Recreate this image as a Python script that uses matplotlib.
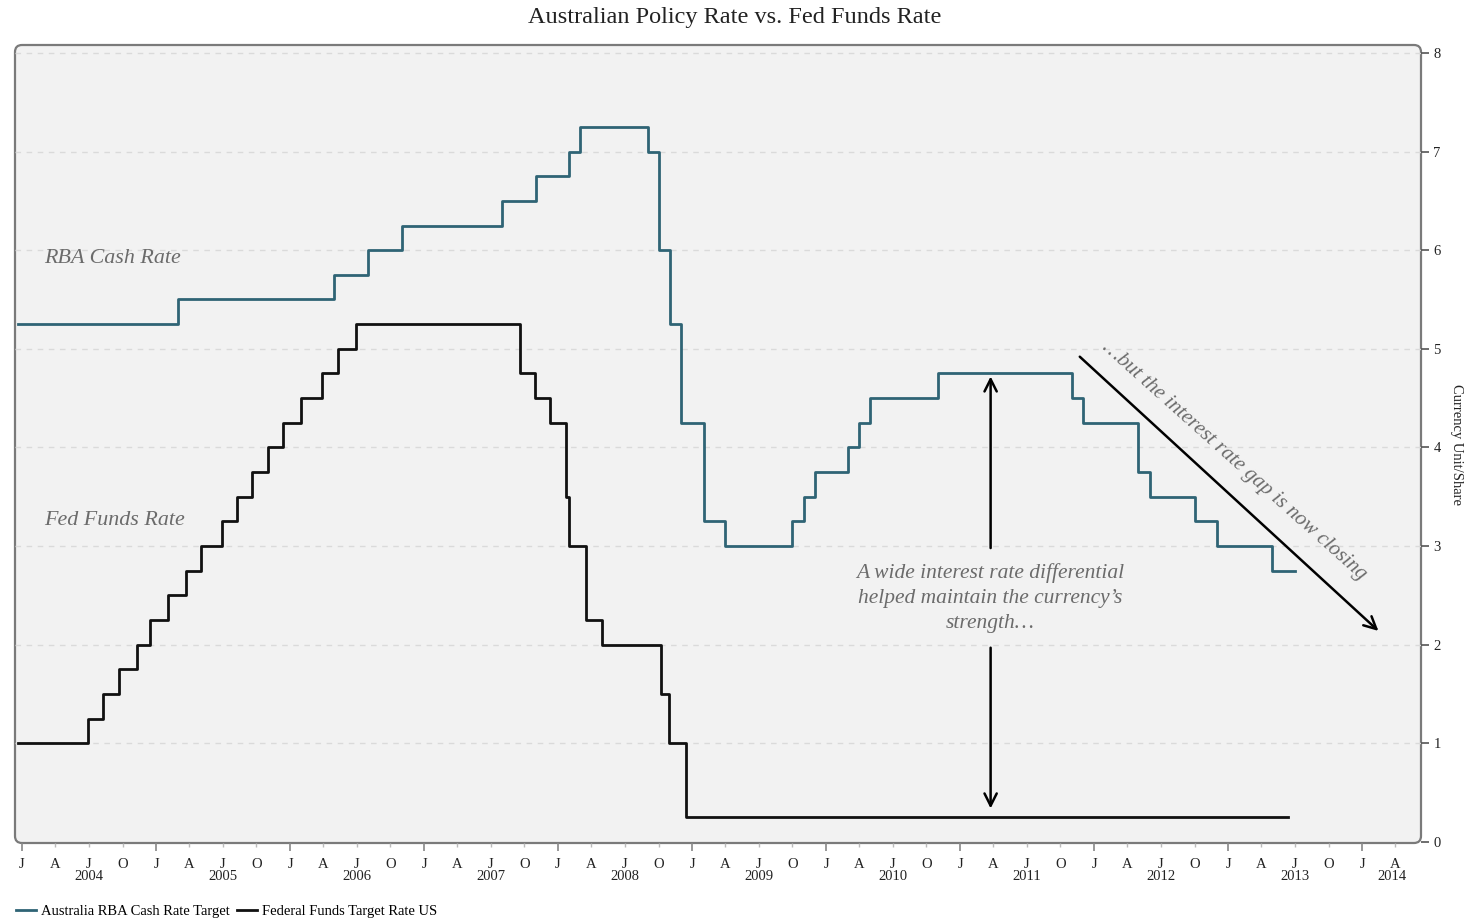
import matplotlib
matplotlib.use("Agg")
import matplotlib.pyplot as plt
import matplotlib.dates as mdates
from matplotlib.patches import FancyBboxPatch
from matplotlib.transforms import IdentityTransform, blended_transform_factory
from matplotlib.lines import Line2D
import pandas as pd

plt.rcParams['font.family'] = ['Liberation Serif', 'DejaVu Serif']

# --- Data -------------------------------------------------------------
rba_dates = ["2003-12-20", "2005-03-01", "2006-05-01", "2006-08-01", "2006-11-01",
             "2007-08-01", "2007-11-01", "2008-02-01", "2008-03-01", "2008-09-01",
             "2008-10-01", "2008-11-01", "2008-12-01", "2009-02-01", "2009-04-01",
             "2009-10-01", "2009-11-01", "2009-12-01", "2010-03-01", "2010-04-01",
             "2010-05-01", "2010-11-01", "2011-11-01", "2011-12-01", "2012-05-01",
             "2012-06-01", "2012-10-01", "2012-12-01", "2013-05-01"]
rba_rates = [5.25, 5.50, 5.75, 6.00, 6.25,
             6.50, 6.75, 7.00, 7.25, 7.00,
             6.00, 5.25, 4.25, 3.25, 3.00,
             3.25, 3.50, 3.75, 4.00, 4.25,
             4.50, 4.75, 4.50, 4.25, 3.75,
             3.50, 3.25, 3.00, 2.75]
rba_end = "2013-07-01"

fed_dates = ["2003-12-20", "2004-06-30", "2004-08-10", "2004-09-21", "2004-11-10",
             "2004-12-14", "2005-02-02", "2005-03-22", "2005-05-03", "2005-06-30",
             "2005-08-09", "2005-09-20", "2005-11-01", "2005-12-13", "2006-01-31",
             "2006-03-28", "2006-05-10", "2006-06-29", "2007-09-18", "2007-10-31",
             "2007-12-11", "2008-01-22", "2008-01-30", "2008-03-18", "2008-04-30",
             "2008-10-08", "2008-10-29", "2008-12-16"]
fed_rates = [1.00, 1.25, 1.50, 1.75, 2.00,
             2.25, 2.50, 2.75, 3.00, 3.25,
             3.50, 3.75, 4.00, 4.25, 4.50,
             4.75, 5.00, 5.25, 4.75, 4.50,
             4.25, 3.50, 3.00, 2.25, 2.00,
             1.50, 1.00, 0.25]
fed_end = "2013-06-12"

series_names = ["Australia RBA Cash Rate Target", "Federal Funds Target Rate US"]
y_ticks = [0, 1, 2, 3, 4, 5, 6, 7, 8]
years = [2004, 2005, 2006, 2007, 2008, 2009, 2010, 2011, 2012, 2013, 2014]

RBA_COLOR = "#2f6475"
FED_COLOR = "#111111"
NOTE_COLOR = "#6b6b6b"

# --- Figure -------------------------------------------------------------
W, H = 1469, 921
fig = plt.figure(figsize=(W / 100, H / 100), dpi=100)
box_l, box_r, box_t, box_b = 15, 1421, 45, 843
ax = fig.add_axes([box_l / W, (H - box_b) / H, (box_r - box_l) / W, (box_b - box_t) / H])
ax.patch.set_visible(False)
for s in ax.spines.values():
    s.set_visible(False)

# rounded plot frame
frame = FancyBboxPatch((box_l, H - box_b), box_r - box_l, box_b - box_t,
                       boxstyle="round,pad=0,rounding_size=7",
                       transform=IdentityTransform(), facecolor="#f2f2f2",
                       edgecolor="#7a7a7a", linewidth=1.6, zorder=-5)
fig.add_artist(frame)

def stepped(dates, rates, end):
    x = list(pd.to_datetime(dates)) + [pd.Timestamp(end)]
    y = list(rates) + [rates[-1]]
    return x, y

rx, ry = stepped(rba_dates, rba_rates, rba_end)
fx, fy = stepped(fed_dates, fed_rates, fed_end)
ax.step(rx, ry, where="post", color=RBA_COLOR, lw=2.0, label=series_names[0], zorder=3)
ax.step(fx, fy, where="post", color=FED_COLOR, lw=2.0, label=series_names[1], zorder=3)

x0 = pd.Timestamp("2003-12-13")
x1 = pd.Timestamp("2014-06-10")
ax.set_xlim(x0, x1)
ax.set_ylim(-0.01, 8.08)

# gridlines
for v in y_ticks[1:]:
    ax.axhline(v, color="#dadada", lw=1.0, dashes=(4, 4), zorder=1)

# y axis on the right
ax.yaxis.tick_right()
ax.yaxis.set_label_position("right")
ax.set_yticks(y_ticks)
ax.tick_params(axis="y", which="major", direction="out", length=6, width=1.2,
               color="#555555", labelsize=10.5, pad=3, labelcolor="#222222")
ax.set_ylabel("Currency Unit/Share", rotation=270, fontsize=10.5, labelpad=16,
              color="#222222")

# x axis: quarter letters, longer ticks at January
ax.xaxis.set_major_locator(mdates.YearLocator())
ax.xaxis.set_major_formatter(mdates.DateFormatter("J"))
ax.xaxis.set_minor_locator(mdates.MonthLocator(bymonth=[4, 7, 10]))
letters = {4: "A", 7: "J", 10: "O"}
ax.xaxis.set_minor_formatter(plt.FuncFormatter(lambda v, p: letters[mdates.num2date(v).month]))
ax.tick_params(axis="x", which="major", direction="out", length=6, width=1.2,
               color="#888888", labelsize=10.5, pad=5, labelcolor="#222222")
ax.tick_params(axis="x", which="minor", direction="out", length=3, width=1.0,
               color="#bbbbbb", labelsize=10.5, pad=8, labelcolor="#222222")

trans = blended_transform_factory(ax.transData, ax.transAxes)
for yr in years:
    if yr == 2014:
        c = pd.Timestamp("2014-01-01") + (x1 - pd.Timestamp("2014-01-01")) / 2
    else:
        c = pd.Timestamp(f"{yr}-07-01")
    ax.text(c, -0.042, str(yr), transform=trans, ha="center", va="center",
            fontsize=10.5, color="#222222")

# title
fig.text(0.5, 1 - 18 / H, "Australian Policy Rate vs. Fed Funds Rate",
         ha="center", va="center", fontsize=17.5, color="#222222")

# series labels
ax.text(pd.Timestamp("2004-03-01"), 5.92, "RBA Cash Rate", style="italic",
        fontsize=15.8, color=NOTE_COLOR, ha="left", va="center")
ax.text(pd.Timestamp("2004-03-01"), 3.26, "Fed Funds Rate", style="italic",
        fontsize=15.8, color=NOTE_COLOR, ha="left", va="center")

# differential annotation
xd = pd.Timestamp("2011-03-25")
arrow_kw = dict(arrowstyle="->", color="black", lw=1.8, mutation_scale=22,
                shrinkA=0, shrinkB=0)
ax.annotate("", xy=(xd, 4.72), xytext=(xd, 2.98), arrowprops=arrow_kw, zorder=4)
ax.annotate("", xy=(xd, 0.34), xytext=(xd, 1.97), arrowprops=arrow_kw, zorder=4)
ax.text(xd, 2.47, "A wide interest rate differential\nhelped maintain the currency\u2019s\nstrength\u2026",
        style="italic", fontsize=15.5, color=NOTE_COLOR, ha="center", va="center",
        linespacing=1.42)

# closing gap annotation
ax.annotate("", xy=(pd.Timestamp("2014-02-14"), 2.14), xytext=(pd.Timestamp("2011-11-23"), 4.92),
            arrowprops=arrow_kw, zorder=4)
ax.text(pd.Timestamp("2013-01-16"), 3.86, "\u2026but the interest rate gap is now closing",
        style="italic", fontsize=15.2, color=NOTE_COLOR, ha="center", va="center",
        rotation=-41.8, rotation_mode="anchor")

# legend
handles = [Line2D([], [], color=RBA_COLOR, lw=2), Line2D([], [], color=FED_COLOR, lw=2)]
fig.legend(handles, series_names, loc="center left", bbox_to_anchor=(16 / W, 10 / H),
           ncol=2, frameon=False, fontsize=10.5, handlelength=1.4, handletextpad=0.3,
           columnspacing=0.5, borderpad=0, borderaxespad=0)

fig.savefig("out.png", dpi=100)
